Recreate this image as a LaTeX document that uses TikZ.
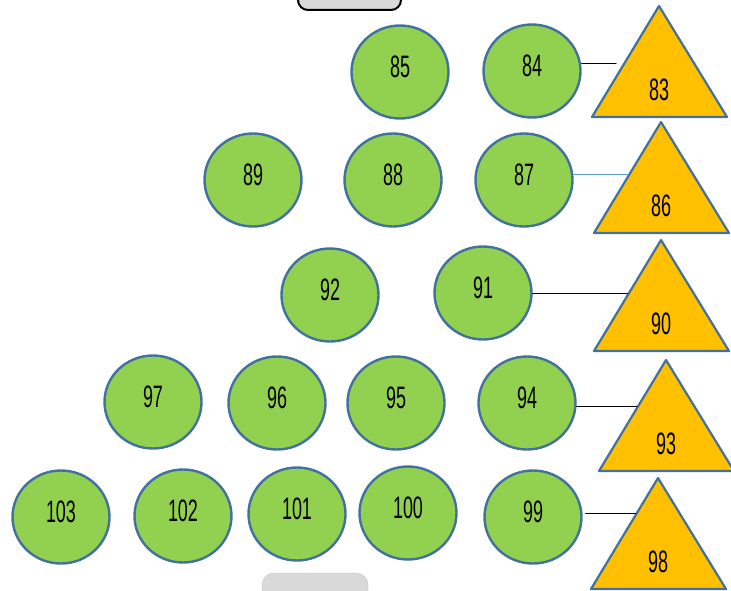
\documentclass[tikz,border=0pt]{standalone}
\usepackage{fontspec}
\setmainfont[FakeStretch=0.58]{Liberation Sans}
\usetikzlibrary{shapes.geometric,calc}
\definecolor{leaf}{HTML}{92D050}
\definecolor{amber}{HTML}{FFC000}
\definecolor{rim}{HTML}{41719C}
\definecolor{sky}{HTML}{5B9BD5}
\begin{document}
\begin{tikzpicture}[x=1pt,y=-1pt,line cap=round,line join=round,
  ell/.style={ellipse,draw=rim,line width=2.4pt,fill=leaf,minimum width=97pt,minimum height=93pt,inner sep=0pt},
  num/.style={font=\fontsize{31}{31}\selectfont,text=black,inner sep=0pt},
  tri/.style={draw=rim,line width=2.2pt,fill=amber},
  link/.style={line width=1pt}]
  \useasboundingbox (0,0) rectangle (731,591);
  \clip (0,0) rectangle (731,591);

  % boxes cut off at the edges
  \draw[fill=gray!30,line width=2pt,rounded corners=10pt] (298,-20) rectangle (401,10);
  \draw[fill=gray!30,draw=gray!45,rounded corners=12pt] (262,573) rectangle (368,620);

  % circles
  \foreach \n/\x/\y in {85/400/72, 84/532/71, 89/253/180, 88/393/180, 87/524/180,
                        92/330/295, 91/483/293, 97/153/402, 96/277/403, 95/396/403,
                        94/527/403, 103/61/517, 102/183/516, 101/297/514, 100/408/513, 99/533/517}
    \node[ell,label={[num,yshift=5pt]center:\n}] (e\n) at (\x,\y) {};

  % triangles
  \foreach \n/\x/\y in {83/659/6, 86/661/122, 90/661/240, 93/666/360, 98/658/478} {
    \draw[tri] (\x,\y) coordinate (a\n) -- (\x-67,\y+111) coordinate (l\n)
      -- (\x+68,\y+111) -- cycle;
    \node[num] (t\n) at (\x,\y+84) {\n};
  }

  % where the links meet the triangles
  \coordinate (c83) at ($(a83)!0.52!(l83)$);
  \coordinate (c86) at ($(a86)!0.47!(l86)$);
  \coordinate (c90) at ($(a90)!0.48!(l90)$);
  \coordinate (c93) at ($(a93)!0.42!(l93)$);
  \coordinate (c98) at ($(a98)!0.32!(l98)$);

  \draw[link,shorten >=8pt] (c83 -| e84.east) -- (c83);
  \draw[link,sky,shorten >=1pt] (c86 -| e87.east) -- (c86);
  \draw[link,shorten >=1pt] (c90 -| e91.east) -- (c90);
  \draw[link,shorten >=1pt] (c93 -| e94.east) -- (c93);
  \draw[link,shorten <=3pt,shorten >=1pt] (c98 -| e99.east) -- (c98);
\end{tikzpicture}
\end{document}
